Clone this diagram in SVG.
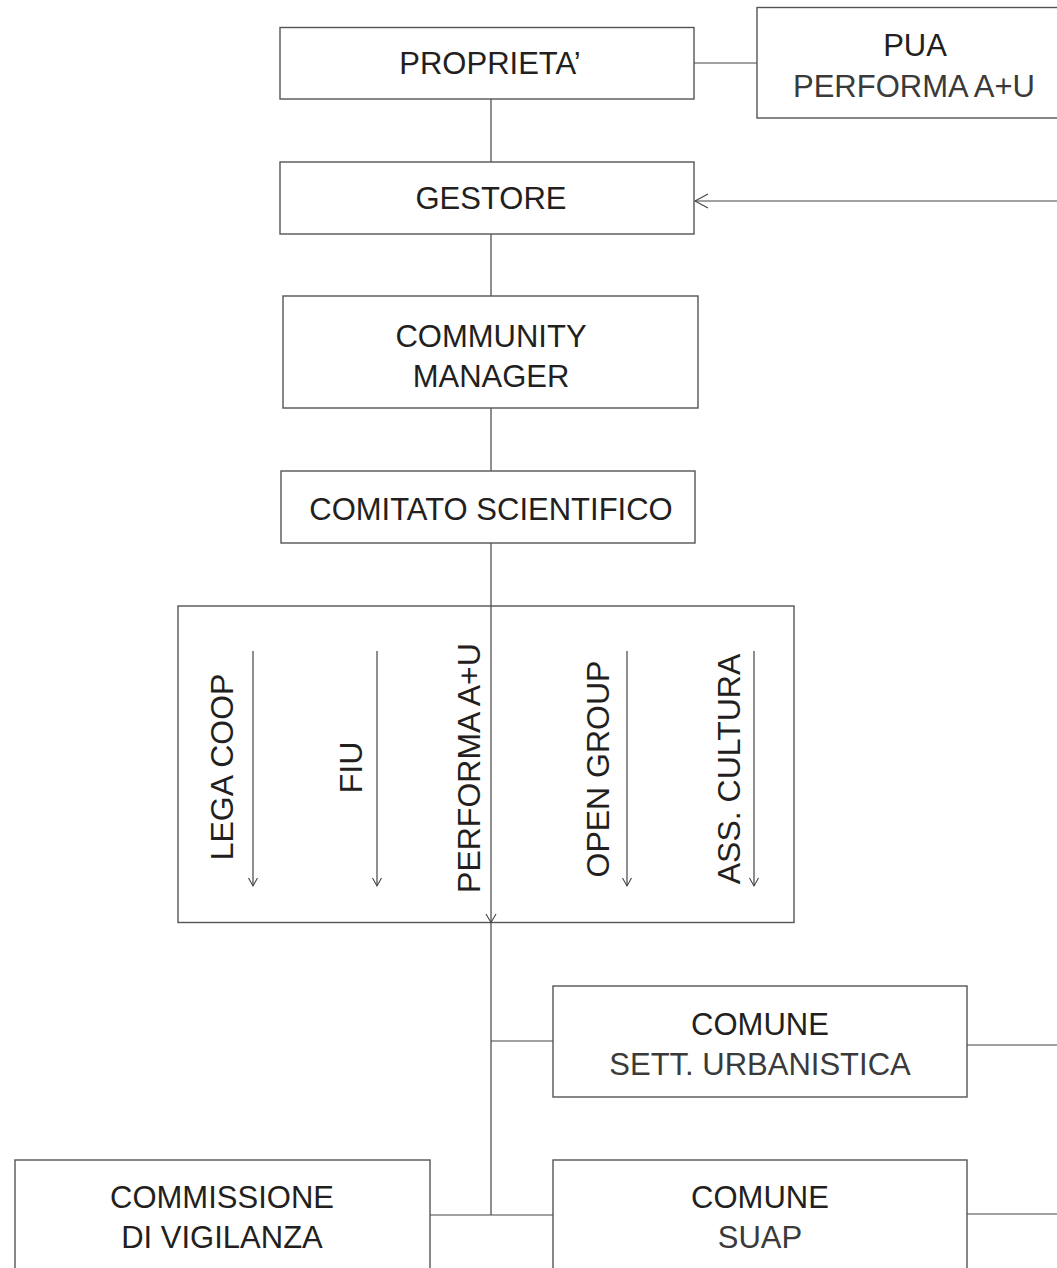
<svg xmlns="http://www.w3.org/2000/svg" width="1057" height="1268" viewBox="0 0 1057 1268">
<style>
.box{fill:#fff;stroke:#555;stroke-width:1.4}
.ln{fill:none;stroke:#444;stroke-width:1.2}
.ah{fill:none;stroke:#444;stroke-width:1.1}
text{font-family:"Liberation Sans",Arial,Helvetica,sans-serif;font-size:31px;fill:#231f20;text-anchor:middle}
.lt{fill:#3a3a3a}
.v{font-size:32px}
</style>
<rect width="1057" height="1268" fill="#fff"/>
<g id="connectors">
<line class="ln" x1="694" y1="63" x2="757" y2="63"/>
<line class="ln" x1="491" y1="99" x2="491" y2="162"/>
<line class="ln" x1="1057" y1="201" x2="695" y2="201"/>
<polyline class="ah" points="708,194 695,201 708,208"/>
<line class="ln" x1="491" y1="234" x2="491" y2="296"/>
<line class="ln" x1="491" y1="408" x2="491" y2="471"/>
<line class="ln" x1="491" y1="543" x2="491" y2="1215"/>
<line class="ln" x1="491" y1="1041" x2="553" y2="1041"/>
<line class="ln" x1="967" y1="1045" x2="1057" y2="1045"/>
<line class="ln" x1="430" y1="1215" x2="553" y2="1215"/>
<line class="ln" x1="967" y1="1214" x2="1057" y2="1214"/>
</g>
<g id="proprieta"><rect class="box" x="280" y="27.5" width="414" height="71.5"/><text x="490" y="74">PROPRIETA’</text></g>
<g id="pua"><rect class="box" x="757" y="7.5" width="310" height="110.5"/><text x="915" y="56">PUA</text><text class="lt" x="914" y="97">PERFORMA A+U</text></g>
<g id="gestore"><rect class="box" x="280" y="162" width="414" height="72"/><text x="491" y="209">GESTORE</text></g>
<g id="community"><rect class="box" x="283" y="296" width="415" height="112"/><text x="491" y="347">COMMUNITY</text><text x="491" y="387">MANAGER</text></g>
<g id="comitato"><rect class="box" x="281" y="471" width="414" height="72"/><text x="491" y="520">COMITATO SCIENTIFICO</text></g>
<g id="members">
<rect class="box" x="178" y="606" width="616" height="316.5"/>
<line class="ln" x1="491" y1="606" x2="491" y2="922"/>
<polyline class="ah" points="486,914 491,922.5 496,914"/>
<line class="ln" x1="253" y1="651" x2="253" y2="886"/><polyline class="ah" points="248.5,878 253,886 257.5,878"/>
<line class="ln" x1="377" y1="651" x2="377" y2="886"/><polyline class="ah" points="372.5,878 377,886 381.5,878"/>
<line class="ln" x1="627" y1="651" x2="627" y2="886"/><polyline class="ah" points="622.5,878 627,886 631.5,878"/>
<line class="ln" x1="754" y1="651" x2="754" y2="886"/><polyline class="ah" points="749.5,878 754,886 758.5,878"/>
<text class="v" transform="translate(232.5,767) rotate(-90)">LEGA COOP</text>
<text class="v" transform="translate(361.5,767.5) rotate(-90)">FIU</text>
<text class="v" transform="translate(480,768) rotate(-90)">PERFORMA A+U</text>
<text class="v" transform="translate(608.5,769) rotate(-90)">OPEN GROUP</text>
<text class="v" transform="translate(740,769) rotate(-90)">ASS. CULTURA</text>
</g>
<g id="comune-urbanistica"><rect class="box" x="553" y="986" width="414" height="111"/><text x="760" y="1035">COMUNE</text><text class="lt" x="760" y="1075">SETT. URBANISTICA</text></g>
<g id="comune-suap"><rect class="box" x="553" y="1160" width="414" height="120"/><text x="760" y="1208">COMUNE</text><text class="lt" x="760" y="1248">SUAP</text></g>
<g id="commissione"><rect class="box" x="15" y="1160" width="415" height="120"/><text x="222" y="1208">COMMISSIONE</text><text x="222" y="1248">DI VIGILANZA</text></g>
</svg>
